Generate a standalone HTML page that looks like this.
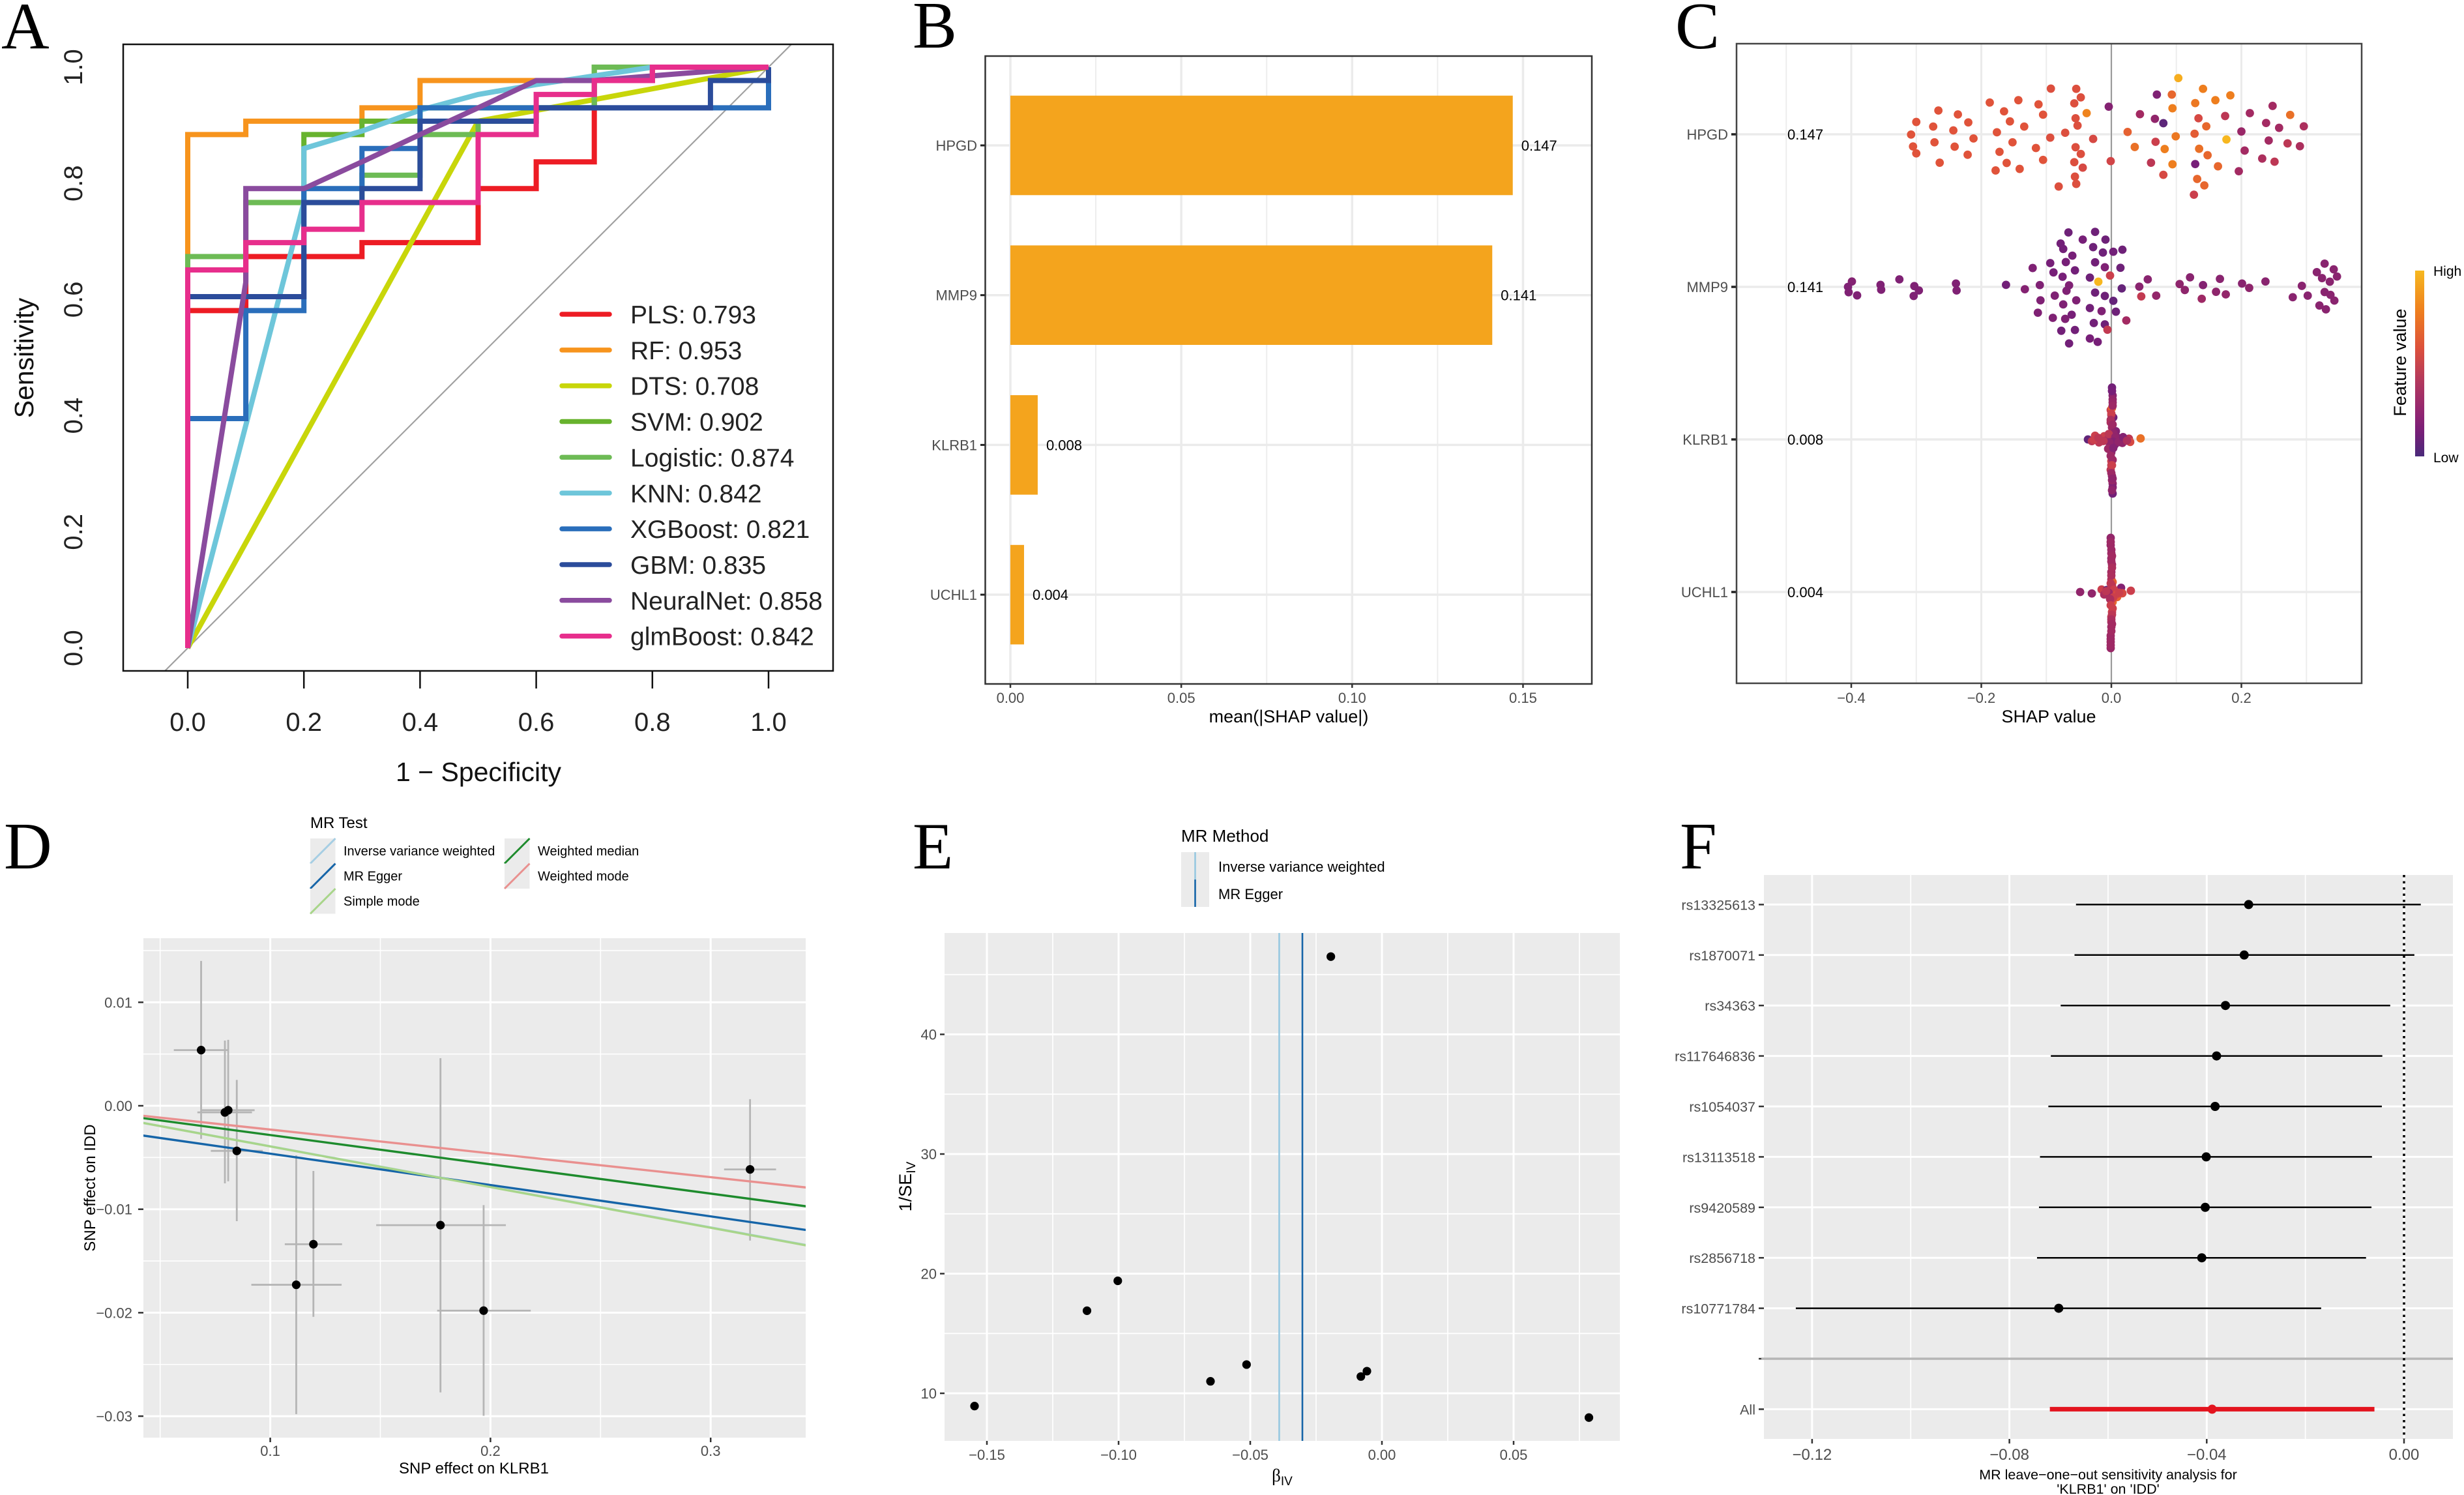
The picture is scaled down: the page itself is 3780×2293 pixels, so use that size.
<!DOCTYPE html>
<html lang="en">
<head>
<meta charset="utf-8">
<title>Multi-panel figure: ROC, SHAP and Mendelian randomization</title>
<style>
html,body{margin:0;padding:0;background:#fff;}
svg{display:block;font-family:"Liberation Sans",Arial,sans-serif;}
.letter{font-family:"Liberation Serif","Times New Roman",serif;font-size:102px;fill:#000;}
</style>
</head>
<body>
<svg id="figure" xmlns="http://www.w3.org/2000/svg" width="3780" height="2293" viewBox="0 0 3780 2293">
<defs>
<clipPath id="clip-a"><rect x="189" y="68" width="1089" height="961"/></clipPath>
<clipPath id="clip-d"><rect x="220" y="1439" width="1016" height="766"/></clipPath>
<linearGradient id="feature-gradient" x1="0" y1="0" x2="0" y2="1">
<stop offset="0" stop-color="#F6B81F"/><stop offset="0.22" stop-color="#EE7E1E"/><stop offset="0.42" stop-color="#DC503C"/><stop offset="0.58" stop-color="#B53A5B"/><stop offset="0.78" stop-color="#8E2473"/><stop offset="0.87" stop-color="#771F78"/><stop offset="1" stop-color="#4A2A7A"/>
</linearGradient>
</defs>
<rect x="0" y="0" width="3780" height="2293" fill="#fff"/>

<g id="panel-a">
<text class="letter" x="2" y="74">A</text>
<text transform="rotate(-90 51 549)" x="51" y="549" text-anchor="middle" font-size="41" fill="#111">Sensitivity</text>
<text x="734" y="1198" text-anchor="middle" font-size="41" fill="#111">1 − Specificity</text>
</g>

<g id="panel-b">
<text class="letter" x="1400" y="73">B</text>
<text x="1977" y="1108" text-anchor="middle" font-size="27" fill="#000">mean(|SHAP value|)</text>
</g>

<g id="panel-c">
<text class="letter" x="2570" y="74">C</text>
<text x="3143" y="1108" text-anchor="middle" font-size="27" fill="#000">SHAP value</text>
<rect x="3705" y="415" width="14" height="285" fill="url(#feature-gradient)"/>
<text transform="rotate(-90 3691 556)" x="3691" y="556" text-anchor="middle" font-size="27" fill="#000">Feature value</text>
<text x="3733" y="423" font-size="21" fill="#000">High</text>
<text x="3733" y="709" font-size="21" fill="#000">Low</text>
</g>

<g id="panel-d">
<text class="letter" x="6" y="1332">D</text>
<text x="476" y="1270" font-size="24" fill="#000">MR Test</text>
<text x="727" y="2260" text-anchor="middle" font-size="24" fill="#000">SNP effect on KLRB1</text>
<text transform="rotate(-90 146 1822)" x="146" y="1822" text-anchor="middle" font-size="24" fill="#000">SNP effect on IDD</text>
</g>

<g id="panel-e">
<text class="letter" x="1400" y="1332">E</text>
<text x="1812" y="1291" font-size="26" fill="#000">MR Method</text>
<text x="1967" y="2272" text-anchor="middle" font-size="27" fill="#000" font-family="'Liberation Serif',serif">β<tspan font-family="'Liberation Sans',sans-serif" font-size="19" dy="6">IV</tspan></text>
<text transform="rotate(-90 1398 1820)" x="1398" y="1820" text-anchor="middle" font-size="27" fill="#000">1/SE<tspan font-size="19" dy="6">IV</tspan></text>
</g>

<g id="panel-f">
<text class="letter" x="2577" y="1332">F</text>
<text x="3234" y="2269" text-anchor="middle" font-size="21.5" fill="#000">MR leave−one−out sensitivity analysis for</text>
<text x="3234" y="2291" text-anchor="middle" font-size="21.5" fill="#000">'KLRB1' on 'IDD'</text>
</g>
</svg>

<script>
/* ---------- Panel A data: ROC curves ---------- */
const modelNames = ['PLS','RF','DTS','SVM','Logistic','KNN','XGBoost','GBM','NeuralNet','glmBoost'];
const modelAuc = ['0.793','0.953','0.708','0.902','0.874','0.842','0.821','0.835','0.858','0.842'];
const plsFpr = [0,0,0.1,0.1,0.3,0.3,0.5,0.5,0.6,0.6,0.7,0.7,0.8,0.8,1];
const plsTpr = [0,0.581,0.581,0.674,0.674,0.698,0.698,0.791,0.791,0.837,0.837,0.977,0.977,1,1];
const rfFpr = [0,0,0.1,0.1,0.3,0.3,0.4,0.4,0.8,0.8,1];
const rfTpr = [0,0.884,0.884,0.907,0.907,0.93,0.93,0.977,0.977,1,1];
const dtsFpr = [0,0.5,1];
const dtsTpr = [0,0.907,1];
const svmFpr = [0,0,0.1,0.1,0.2,0.2,0.3,0.3,0.4,0.4,0.7,0.7,1];
const svmTpr = [0,0.674,0.674,0.767,0.767,0.884,0.884,0.907,0.907,0.93,0.93,1,1];
const logisticFpr = [0,0,0.1,0.1,0.3,0.3,0.4,0.4,0.5,0.5,0.6,0.6,0.7,0.7,1];
const logisticTpr = [0,0.674,0.674,0.767,0.767,0.814,0.814,0.884,0.884,0.907,0.907,0.93,0.93,1,1];
const knnFpr = [0,0.2,0.2,0.3,0.4,0.5,0.6,0.7,0.8,1];
const knnTpr = [0,0.767,0.86,0.89,0.926,0.953,0.97,0.985,1,1];
const xgbFpr = [0,0,0.1,0.1,0.2,0.2,0.3,0.3,0.4,0.4,1,1];
const xgbTpr = [0,0.395,0.395,0.581,0.581,0.791,0.791,0.86,0.86,0.93,0.93,1];
const gbmFpr = [0,0,0.2,0.2,0.3,0.3,0.4,0.4,0.6,0.6,0.9,0.9,1,1];
const gbmTpr = [0,0.605,0.605,0.767,0.767,0.791,0.791,0.907,0.907,0.93,0.93,0.977,0.977,1];
const neuralFpr = [0,0.1,0.1,0.2,0.3,0.4,0.5,0.6,0.7,0.8,0.9,1];
const neuralTpr = [0,0.63,0.791,0.791,0.837,0.884,0.93,0.977,0.977,0.985,0.993,1];
const glmFpr = [0,0,0.1,0.1,0.2,0.2,0.3,0.3,0.5,0.5,0.6,0.6,0.7,0.7,0.8,0.8,1];
const glmTpr = [0,0.651,0.651,0.698,0.698,0.721,0.721,0.767,0.767,0.884,0.884,0.953,0.953,0.977,0.977,1,1];
const rocTicks = [0,0.2,0.4,0.6,0.8,1];
const rocTickLabels = ['0.0','0.2','0.4','0.6','0.8','1.0'];

/* ---------- Panel B data: mean absolute SHAP ---------- */
const geneNames = ['HPGD','MMP9','KLRB1','UCHL1'];
const meanShap = [0.147,0.141,0.008,0.004];
const meanShapLabels = ['0.147','0.141','0.008','0.004'];
const barTicks = [0,0.05,0.1,0.15];
const barTickLabels = ['0.00','0.05','0.10','0.15'];
const barMinorTicks = [0.025,0.075,0.125];

/* ---------- Panel C data: SHAP beeswarm ---------- */
const swarmTicks = [-0.4,-0.2,0,0.2];
const swarmTickLabels = ['−0.4','−0.2','0.0','0.2'];
const swarmMinorTicks = [-0.5,-0.3,-0.1,0.1,0.3];
const hpgdShap = [-.266,-.236,-.300,-.220,-.274,-.243,-.308,-.212,-.272,-.305,-.241,-.300,-.221,-.264,-.187,-.143,-.165,-.112,-.105,-.156,-.134,-.176,-.152,-.116,-.172,-.105,-.161,-.141,-.178,-.093,-.054,-.047,-.057,-.055,-.052,-.071,-.094,-.028,-.055,-.047,-.057,-.044,-.056,-.054,-.081,-.001,-.038,-.004,.103,.141,.070,.093,.183,.160,.129,.094,.044,.175,.213,.248,.275,.067,.134,.080,.146,.238,.258,.296,.200,.025,.128,.099,.177,.068,.242,.271,.290,.036,.082,.135,.205,.148,.232,.251,.061,.094,.129,.164,.196,.080,.132,.143,.127];
const hpgdSwarm = [-.304,-.254,-.158,-.152,-.099,-.050,.003,.053,.102,.155,.158,.244,.261,.363,-.406,-.436,-.294,-.383,-.251,-.165,-.099,-.026,.102,.175,.224,.327,.366,.442,.462,-.584,-.581,-.472,-.396,-.205,-.112,-.020,.043,.059,.165,.251,.356,.426,.541,.634,.667,.343,-.271,-.353,-.719,-.581,-.508,-.508,-.498,-.436,-.399,-.333,-.257,-.234,-.271,-.363,-.248,-.198,-.205,-.142,-.102,-.145,-.083,-.102,-.036,-.030,-.007,.026,.066,.096,.079,.116,.152,.162,.188,.185,.208,.267,.310,.350,.363,.383,.380,.409,.472,.518,.571,.653,.772];
const hpgdFeature = [.65,.65,.65,.65,.65,.65,.65,.65,.65,.65,.65,.65,.65,.65,.65,.65,.65,.65,.65,.65,.65,.65,.65,.65,.65,.65,.65,.65,.65,.63,.63,.63,.63,.63,.63,.63,.63,.6,.63,.63,.63,.6,.63,.63,.63,.58,.82,.3,.95,.8,.28,.72,.8,.8,.78,.8,.42,.5,.42,.42,.75,.35,.6,.1,.72,.42,.42,.45,.38,.7,.68,.78,.98,.55,.42,.5,.45,.75,.8,.75,.42,.72,.45,.5,.5,.8,.25,.72,.42,.6,.72,.72,.55];
const mmp9Shap = [-.066,-.025,-.044,-.009,-.078,-.074,-.028,-.013,.003,.017,-.060,-.094,-.070,-.025,-.010,.014,-.121,-.056,-.089,-.075,-.002,-.033,-.020,.056,.121,.167,-.399,-.326,.237,.201,-.162,-.110,-.065,-.405,-.355,-.303,-.239,.043,.105,.141,.212,.016,-.133,-.354,-.296,-.238,-.404,-.069,-.025,.113,.161,.176,-.087,-.010,-.391,-.304,.069,.046,.139,-.109,-.054,.003,-.074,-.033,-.015,.007,-.113,-.061,-.090,-.071,.023,-.027,-.010,-.006,-.077,-.056,-.033,-.021,-.065,.328,.342,.316,.347,.324,.336,.293,.328,.337,.279,.302,.343,.320,.330];
const mmp9Swarm = [-.696,-.703,-.604,-.604,-.554,-.485,-.508,-.439,-.449,-.475,-.399,-.304,-.317,-.314,-.251,-.244,-.241,-.211,-.185,-.129,-.145,-.119,-.066,-.096,-.122,-.102,-.069,-.096,-.069,-.043,-.026,-.023,-.020,0,-.026,-.010,-.043,-.003,-.036,-.023,.013,.020,.030,.036,.046,.046,.069,.050,.073,.040,.063,.096,.112,.116,.109,.116,.112,.122,.152,.172,.172,.178,.224,.271,.310,.317,.330,.356,.396,.409,.429,.462,.479,.548,.561,.551,.660,.703,.723,-.297,-.224,-.188,-.132,-.112,-.066,-.013,.066,.102,.132,.112,.175,.238,.287];
const mmp9Feature = [.2,.2,.25,.2,.22,.22,.2,.2,.22,.2,.25,.25,.25,.22,.28,.2,.28,.22,.25,.25,.55,.2,.98,.32,.32,.32,.3,.28,.32,.32,.22,.28,.28,.28,.28,.28,.28,.32,.34,.3,.34,.15,.3,.28,.28,.28,.28,.28,.2,.34,.34,.36,.28,.2,.28,.28,.36,.52,.4,.28,.28,.15,.28,.22,.28,.2,.28,.25,.28,.28,.42,.22,.2,.52,.22,.22,.25,.25,.22,.32,.32,.32,.32,.32,.32,.32,.32,.32,.32,.32,.32,.32,.32];
const klrb1Shap = [.001,.002,.002,.002,-.001,.001,.003,-.001,.001,.007,-.001,.009,-.036,-.025,-.030,-.019,-.011,-.006,.013,.021,.027,.045,.029,.017,.005,-.002,0,0,.002,-.001,.001,.002,.002,.002,0,0,.001,-.027,-.013,.001,.002,0,-.001,.002,.003,-.004,.006,.003,-.003,-.012,.011,-.005,.003,-.001,.001,0,.002,.001,-.02,.018,.024];
const klrb1Swarm = [-.663,-.561,-.51,-.472,-.376,-.402,-.281,-.217,-.153,-.105,-.041,-.026,0,-.048,.022,.038,-.041,.006,-.010,.006,-.010,-.013,.032,.045,.070,.086,.166,.277,.261,.389,.469,.564,.612,.692,-.31,.33,.52,.006,.02,-.62,-.43,-.33,-.25,-.19,-.08,-.07,-.03,.03,.04,.02,.035,.12,.11,.21,.33,.43,.5,.65,-.02,-.03,.015];
const klrb1Feature = [.22,.32,.36,.38,.55,.7,.2,.45,.4,.3,.5,.3,.12,.55,.5,.5,.55,.4,.3,.35,.5,.75,.6,.35,.25,.4,.35,.55,.4,.5,.35,.35,.3,.22,.45,.5,.38,.55,.5,.25,.4,.55,.45,.4,.35,.5,.35,.3,.35,.5,.35,.4,.3,.4,.55,.4,.35,.35,.5,.3,.45];
const uchl1Shap = [-.001,-.001,0,0,.001,0,0,.002,-.048,-.030,-.015,-.007,.015,.030,.009,.017,.005,-.003,-.011,.002,.001,0,0,0,-.001,-.001,-.001,0,0,-.001,0,.001,0,.001,0,-.001,.001,.004,-.004,.008,-.008,.003,-.002,.012,-.001,.002,.001,0,.001,0,-.001,-.001];
const uchl1Swarm = [-.692,-.599,-.494,-.430,-.351,-.255,-.159,-.128,0,.019,-.032,-.026,-.054,-.016,.064,.016,0,.048,.032,.128,.255,.319,.383,.446,.558,.638,.717,-.06,.1,-.64,-.54,-.46,-.39,-.31,-.21,-.11,-.08,-.03,.01,.03,-.01,.07,.09,.01,.17,.21,.29,.35,.41,.5,.6,.68];
const uchl1Feature = [.36,.38,.4,.36,.42,.42,.45,.7,.35,.35,.55,.12,.3,.55,.7,.6,.6,.4,.45,.72,.55,.5,.45,.4,.4,.4,.38,.5,.55,.4,.4,.42,.42,.45,.45,.5,.5,.55,.4,.6,.5,.55,.45,.55,.55,.55,.5,.45,.42,.42,.4,.4];

/* ---------- Panel D data: SNP effects ---------- */
const snpExposure = [0.0686,0.0794,0.0809,0.0848,0.1196,0.1118,0.1773,0.1969,0.3179];
const snpOutcome = [0.00538,-0.00064,-0.00043,-0.00436,-0.01338,-0.0173,-0.01154,-0.0198,-0.00615];
const snpExposureLow = [0.0562,0.0669,0.0686,0.073,0.1066,0.0914,0.1481,0.1758,0.3061];
const snpExposureHigh = [0.081,0.0917,0.0929,0.0966,0.1326,0.1324,0.207,0.2183,0.3297];
const snpOutcomeLow = [-0.0032,-0.0075,-0.0073,-0.01115,-0.0204,-0.0298,-0.0277,-0.02996,-0.01303];
const snpOutcomeHigh = [0.014,0.0063,0.00637,0.0025,-0.0063,-0.0048,0.0046,-0.0096,0.00064];
const mrMethods = ['Inverse variance weighted','MR Egger','Simple mode','Weighted median','Weighted mode'];
const mrSlopes = [-0.0392,-0.0303,-0.0393,-0.0283,-0.023];
const mrIntercepts = [0,-0.0016,0,0,0];
const dXTicks = [0.1,0.2,0.3];
const dXTickLabels = ['0.1','0.2','0.3'];
const dXMinorTicks = [0.05,0.15,0.25];
const dYTicks = [0.01,0,-0.01,-0.02,-0.03];
const dYTickLabels = ['0.01','0.00','−0.01','−0.02','−0.03'];
const dYMinorTicks = [0.015,0.005,-0.005,-0.015,-0.025];

/* ---------- Panel E data: funnel ---------- */
const betaIv = [-0.0194,-0.1003,-0.112,-0.0514,-0.0651,-0.008,-0.0057,-0.1547,0.0786];
const inverseSe = [46.5,19.4,16.9,12.4,11,11.4,11.85,8.93,7.97];
const eMethods = ['Inverse variance weighted','MR Egger'];
const eMethodBeta = [-0.039,-0.0302];
const eXTicks = [-0.15,-0.1,-0.05,0,0.05];
const eXTickLabels = ['−0.15','−0.10','−0.05','0.00','0.05'];
const eXMinorTicks = [-0.125,-0.075,-0.025,0.025,0.075];
const eYTicks = [10,20,30,40];
const eYTickLabels = ['10','20','30','40'];
const eYMinorTicks = [15,25,35,45];

/* ---------- Panel F data: leave-one-out ---------- */
const looSnps = ['rs13325613','rs1870071','rs34363','rs117646836','rs1054037','rs13113518','rs9420589','rs2856718','rs10771784'];
const looBeta = [-0.0315,-0.0324,-0.0362,-0.038,-0.0383,-0.0401,-0.0403,-0.041,-0.07];
const looLow = [-0.0665,-0.0668,-0.0696,-0.0716,-0.0721,-0.0738,-0.074,-0.0744,-0.1233];
const looHigh = [0.0034,0.0021,-0.0028,-0.0044,-0.0045,-0.0065,-0.0066,-0.0077,-0.0168];
const allBeta = -0.0389;
const allLow = -0.0718;
const allHigh = -0.006;
const fXTicks = [-0.12,-0.08,-0.04,0];
const fXTickLabels = ['−0.12','−0.08','−0.04','0.00'];
const fXMinorTicks = [-0.1,-0.06,-0.02];

/* ---------- Drawing helpers ---------- */
const NS = 'http://www.w3.org/2000/svg';
function put(tag, parent, attrs) {
  const node = document.createElementNS(NS, tag);
  for (const k in attrs) node.setAttribute(k, attrs[k]);
  parent.appendChild(node);
  return node;
}
function line(parent, x1, y1, x2, y2, stroke, width, name, extra) {
  const el = put('line', parent, Object.assign({x1: x1, y1: y1, x2: x2, y2: y2, stroke: stroke, 'stroke-width': width}, extra || {}));
  
  
  return el;
}
function rect(parent, x, y, w, h, fill, name, extra) {
  const el = put('rect', parent, Object.assign({x: x, y: y, width: w, height: h, fill: fill}, extra || {}));
  
  
  return el;
}
function dot(parent, cx, cy, r, fill, name) {
  const el = put('circle', parent, {cx: cx, cy: cy, r: r, fill: fill});
  
  
  return el;
}
function label(parent, x, y, str, size, anchor, fill, name, rotate) {
  const attrs = {x: x, y: y, 'font-size': size, 'text-anchor': anchor, fill: fill};
  if (rotate) attrs.transform = 'rotate(-90 ' + x + ' ' + y + ')';
  const el = put('text', parent, attrs);
  el.textContent = str;
  
  
  return el;
}
function polyline(parent, pts, stroke, width, name, clip) {
  const attrs = {points: pts.join(' '), fill: 'none', stroke: stroke, 'stroke-width': width, 'stroke-linejoin': 'miter', 'stroke-linecap': 'butt'};
  if (clip) attrs['clip-path'] = clip;
  const el = put('polyline', parent, attrs);
  
  
  return el;
}
const TICK = '#4D4D4D';

/* ---------- Panel A ---------- */
(function () {
  const g = document.getElementById('panel-a');
  const xA = v => 288 + v * 891;
  const yA = v => 994 - v * 891;
  const series = [[plsFpr,plsTpr,'#ED1C24'],[rfFpr,rfTpr,'#F7941D'],[dtsFpr,dtsTpr,'#C8D60A'],[svmFpr,svmTpr,'#68B32E'],[logisticFpr,logisticTpr,'#6DBB55'],[knnFpr,knnTpr,'#6EC6DA'],[xgbFpr,xgbTpr,'#2A6EBB'],[gbmFpr,gbmTpr,'#2B4C9B'],[neuralFpr,neuralTpr,'#8A4B9E'],[glmFpr,glmTpr,'#E72E8C']];
  line(g, xA(-0.2), yA(-0.2), xA(1.2), yA(1.2), '#A0A0A0', 2.2, 'a-reference-diagonal', {'clip-path': 'url(#clip-a)'});
  series.forEach((s, i) => {
    const pts = s[0].map((f, j) => xA(f) + ',' + yA(s[1][j]));
    polyline(g, pts, s[2], 8, 'a-roc-curve-' + modelNames[i].toLowerCase(), 'url(#clip-a)');
    const rowY = 482 + i * 54.85;
    line(g, 862, rowY, 935, rowY, s[2], 7.5, 'a-legend-swatch-' + modelNames[i].toLowerCase(), {'stroke-linecap': 'round'});
    label(g, 967, rowY + 14, modelNames[i] + ': ' + modelAuc[i], 39, 'start', '#222', 'a-legend-label-' + modelNames[i].toLowerCase());
  });
  rect(g, 189, 68, 1089, 961, 'none', 'a-plot-frame', {stroke: '#111', 'stroke-width': 2.5});
  rocTicks.forEach((t, i) => {
    line(g, xA(t), 1029, xA(t), 1056, '#111', 2.5, 'a-x-tick');
    label(g, xA(t), 1121, rocTickLabels[i], 40, 'middle', '#222', 'a-x-tick-label');
    label(g, 126, yA(t), rocTickLabels[i], 40, 'middle', '#222', 'a-y-tick-label', true);
  });
})();

/* ---------- Panel B ---------- */
(function () {
  const g = document.getElementById('panel-b');
  const xB = v => 1550 + v * 5243;
  const yB = i => 223 + i * 229.7;
  barMinorTicks.forEach(t => line(g, xB(t), 86, xB(t), 1049, '#EDEDED', 2, 'b-minor-gridline'));
  barTicks.forEach(t => line(g, xB(t), 86, xB(t), 1049, '#EBEBEB', 3.5, 'b-major-gridline'));
  geneNames.forEach((n, i) => {
    line(g, 1511, yB(i), 2442, yB(i), '#EBEBEB', 3.5, 'b-row-gridline');
    rect(g, xB(0), yB(i) - 76.3, xB(meanShap[i]) - xB(0), 152.6, '#F4A41D', 'b-bar-' + n.toLowerCase());
    label(g, xB(meanShap[i]) + 13, yB(i) + 8, meanShapLabels[i], 22, 'start', '#000', 'b-value-label-' + n.toLowerCase());
    line(g, 1504, yB(i), 1511, yB(i), '#222', 3, 'b-y-tick');
    label(g, 1499, yB(i) + 8, n, 22, 'end', TICK, 'b-y-tick-label');
  });
  rect(g, 1511.5, 86, 930.5, 963, 'none', 'b-plot-frame', {stroke: '#333', 'stroke-width': 2.5});
  barTicks.forEach((t, i) => {
    line(g, xB(t), 1049, xB(t), 1055, '#333', 2.5, 'b-x-tick');
    label(g, xB(t), 1078, barTickLabels[i], 22, 'middle', TICK, 'b-x-tick-label');
  });
})();

/* ---------- Panel C ---------- */
const colorStops = [[0,[74,42,122]],[0.25,[119,31,120]],[0.42,[163,42,98]],[0.55,[203,63,76]],[0.65,[224,83,58]],[0.8,[238,126,30]],[1,[248,189,31]]];
function featureColor(v) {
  for (let i = 1; i < colorStops.length; i++) {
    if (v <= colorStops[i][0]) {
      const a = colorStops[i - 1], b = colorStops[i];
      const t = (v - a[0]) / (b[0] - a[0]);
      const c = a[1].map((p, k) => Math.round(p + (b[1][k] - p) * t));
      return 'rgb(' + c.join(',') + ')';
    }
  }
  return 'rgb(248,189,31)';
}
(function () {
  const g = document.getElementById('panel-c');
  const xC = v => 3239 + v * 997.5;
  const yC = i => 206 + i * 234;
  const swarmHeight = 120;
  swarmMinorTicks.forEach(t => line(g, xC(t), 67, xC(t), 1048, '#EDEDED', 2, 'c-minor-gridline'));
  swarmTicks.forEach(t => line(g, xC(t), 67, xC(t), 1048, '#EBEBEB', 3, 'c-major-gridline'));
  geneNames.forEach((n, i) => {
    line(g, 2664, yC(i), 3623, yC(i), '#EBEBEB', 3.5, 'c-row-gridline');
    label(g, 2742, yC(i) + 8, meanShapLabels[i], 22, 'start', '#000', 'c-value-label-' + n.toLowerCase());
    line(g, 2656, yC(i), 2664, yC(i), '#222', 3.5, 'c-y-tick');
    label(g, 2651, yC(i) + 8, n, 22, 'end', TICK, 'c-y-tick-label');
  });
  line(g, 3239, 67, 3239, 1048, '#9A9A9A', 2, 'c-zero-line');
  const groups = [[hpgdShap,hpgdSwarm,hpgdFeature],[mmp9Shap,mmp9Swarm,mmp9Feature],[klrb1Shap,klrb1Swarm,klrb1Feature],[uchl1Shap,uchl1Swarm,uchl1Feature]];
  groups.forEach((grp, i) => {
    grp[0].forEach((s, j) => {
      dot(g, xC(s), yC(i) + grp[1][j] * swarmHeight, 6.4, featureColor(grp[2][j]), 'c-point-' + geneNames[i].toLowerCase());
    });
  });
  rect(g, 2664, 67, 959, 981, 'none', 'c-plot-frame', {stroke: '#444', 'stroke-width': 2.5});
  swarmTicks.forEach((t, i) => {
    line(g, xC(t), 1048, xC(t), 1055, '#333', 2.5, 'c-x-tick');
    label(g, xC(t), 1078, swarmTickLabels[i], 22, 'middle', TICK, 'c-x-tick-label');
  });
})();

/* ---------- Panel D ---------- */
(function () {
  const g = document.getElementById('panel-d');
  const L = 220, R = 1236, T = 1439, B = 2205;
  const xD = v => 414.6 + (v - 0.1) * 3378;
  const yD = v => 1696 - v * 15870;
  const colors = ['#A6CEE3','#1665A8','#A8D58A','#1E8B2D','#E9908F'];
  rect(g, L, T, R - L, B - T, '#EBEBEB', 'd-panel-background');
  dYMinorTicks.forEach(t => line(g, L, yD(t), R, yD(t), '#fff', 1.6, 'd-minor-gridline'));
  dXMinorTicks.forEach(t => line(g, xD(t), T, xD(t), B, '#fff', 1.6, 'd-minor-gridline'));
  dYTicks.forEach((t, i) => {
    line(g, L, yD(t), R, yD(t), '#fff', 3, 'd-major-gridline');
    line(g, L - 8, yD(t), L, yD(t), '#333', 2.5, 'd-y-tick');
    label(g, L - 17, yD(t) + 8, dYTickLabels[i], 22, 'end', TICK, 'd-y-tick-label');
  });
  dXTicks.forEach((t, i) => {
    line(g, xD(t), T, xD(t), B, '#fff', 3, 'd-major-gridline');
    line(g, xD(t), B, xD(t), B + 7, '#333', 2.5, 'd-x-tick');
    label(g, xD(t), 2233, dXTickLabels[i], 22, 'middle', TICK, 'd-x-tick-label');
  });
  snpExposure.forEach((x, i) => {
    line(g, xD(snpExposureLow[i]), yD(snpOutcome[i]), xD(snpExposureHigh[i]), yD(snpOutcome[i]), '#B5B5B5', 2.8, 'd-x-error-bar');
    line(g, xD(x), yD(snpOutcomeLow[i]), xD(x), yD(snpOutcomeHigh[i]), '#B5B5B5', 2.8, 'd-y-error-bar');
  });
  const xMin = 0.0423, xMax = 0.3432;
  mrSlopes.forEach((m, i) => {
    const b = mrIntercepts[i];
    line(g, xD(xMin), yD(b + m * xMin), xD(xMax), yD(b + m * xMax), colors[i], 3.4, 'd-fit-line-' + i, {'clip-path': 'url(#clip-d)'});
  });
  snpExposure.forEach((x, i) => dot(g, xD(x), yD(snpOutcome[i]), 6.6, '#000', 'd-snp-point'));
  const keyX = [476,476,476,774,774];
  const keyY = [1286,1324.5,1363,1286,1324.5];
  mrMethods.forEach((m, i) => {
    rect(g, keyX[i], keyY[i], 38.5, 38.5, '#EBEBEB', 'd-legend-key');
    line(g, keyX[i], keyY[i] + 38.5, keyX[i] + 38.5, keyY[i], colors[i], 3, 'd-legend-key-line');
    label(g, keyX[i] + 51, keyY[i] + 26, m, 20, 'start', '#000', 'd-legend-label');
  });
})();

/* ---------- Panel E ---------- */
(function () {
  const g = document.getElementById('panel-e');
  const L = 1449, R = 2485, T = 1431, B = 2210;
  const xE = v => 2120 + v * 4040;
  const yE = v => 2137 - (v - 10) * 18.35;
  const colors = ['#97C8E0','#1665A8'];
  rect(g, L, T, R - L, B - T, '#EBEBEB', 'e-panel-background');
  eYMinorTicks.forEach(t => line(g, L, yE(t), R, yE(t), '#fff', 1.7, 'e-minor-gridline'));
  eXMinorTicks.forEach(t => line(g, xE(t), T, xE(t), B, '#fff', 1.7, 'e-minor-gridline'));
  eYTicks.forEach((t, i) => {
    line(g, L, yE(t), R, yE(t), '#fff', 3, 'e-major-gridline');
    line(g, L - 7, yE(t), L, yE(t), '#333', 2.5, 'e-y-tick');
    label(g, L - 12, yE(t) + 8, eYTickLabels[i], 22, 'end', TICK, 'e-y-tick-label');
  });
  eXTicks.forEach((t, i) => {
    line(g, xE(t), T, xE(t), B, '#fff', 3, 'e-major-gridline');
    line(g, xE(t), B, xE(t), B + 6, '#333', 2.5, 'e-x-tick');
    label(g, xE(t), 2239, eXTickLabels[i], 22, 'middle', TICK, 'e-x-tick-label');
  });
  eMethodBeta.forEach((b, i) => line(g, xE(b), T, xE(b), B, colors[i], 2.6, 'e-method-line-' + i));
  betaIv.forEach((b, i) => dot(g, xE(b), yE(inverseSe[i]), 6.6, '#000', 'e-snp-point'));
  eMethods.forEach((m, i) => {
    const ky = 1307 + i * 42;
    rect(g, 1812, ky, 43, 42, '#EBEBEB', 'e-legend-key');
    line(g, 1833.5, ky, 1833.5, ky + 42, colors[i], 2.6, 'e-legend-key-line');
    label(g, 1869, ky + 30, m, 22, 'start', '#000', 'e-legend-label');
  });
})();

/* ---------- Panel F ---------- */
(function () {
  const g = document.getElementById('panel-f');
  const L = 2706, R = 3763, T = 1342, B = 2207;
  const xF = v => 3688 + v * 7567.5;
  const yF = i => 1387.4 + i * 77.4;
  rect(g, L, T, R - L, B - T, '#EBEBEB', 'f-panel-background');
  fXMinorTicks.forEach(t => line(g, xF(t), T, xF(t), B, '#fff', 1.7, 'f-minor-gridline'));
  fXTicks.forEach((t, i) => {
    line(g, xF(t), T, xF(t), B, '#fff', 3, 'f-major-gridline');
    line(g, xF(t), B, xF(t), B + 7, '#333', 2.5, 'f-x-tick');
    label(g, xF(t), 2239, fXTickLabels[i], 24, 'middle', TICK, 'f-x-tick-label');
  });
  const rows = looSnps.concat(['', 'All']);
  rows.forEach((n, i) => {
    line(g, L, yF(i), R, yF(i), '#fff', 3, 'f-row-gridline');
    line(g, L - 8, yF(i), L, yF(i), '#333', 2.5, 'f-y-tick');
    if (n) label(g, 2693, yF(i) + 8, n, 21.5, 'end', TICK, 'f-y-tick-label');
  });
  line(g, 2702, yF(9), R, yF(9), '#B5B5B5', 3.5, 'f-separator-line');
  line(g, xF(0), T, xF(0), B, '#000', 3.5, 'f-null-line', {'stroke-dasharray': '3.5 6'});
  looSnps.forEach((n, i) => {
    line(g, xF(looLow[i]), yF(i), xF(looHigh[i]), yF(i), '#000', 2.5, 'f-ci-line-' + n);
    dot(g, xF(looBeta[i]), yF(i), 7, '#000', 'f-point-' + n);
  });
  line(g, xF(allLow), yF(10), xF(allHigh), yF(10), '#E3141E', 7, 'f-ci-line-all');
  dot(g, xF(allBeta), yF(10), 7, '#E3141E', 'f-point-all');
})();
</script>
</body>
</html>
